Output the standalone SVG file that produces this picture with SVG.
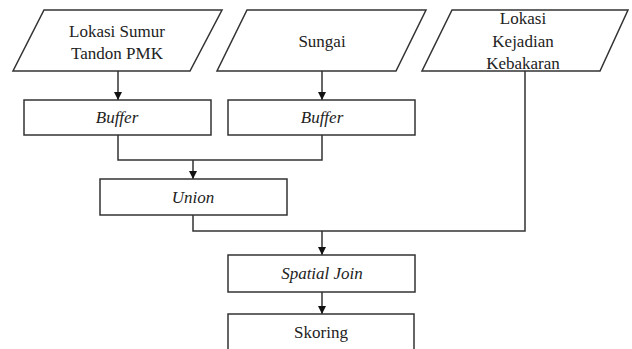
<svg xmlns="http://www.w3.org/2000/svg" width="632" height="349" viewBox="0 0 632 349">
<defs>
<marker id="arr" viewBox="0 0 10 10" refX="10" refY="5" markerWidth="8" markerHeight="9" markerUnits="userSpaceOnUse" orient="auto">
<path d="M0,0 L10,5 L0,10 Z" fill="#111"/>
</marker>
<style>
.shape{fill:#fff;stroke:#333;stroke-width:1.5}
.line{fill:none;stroke:#333;stroke-width:1.5}
.t{font-size:17px;fill:#222;text-anchor:middle}
.i{font-style:italic}
</style>
</defs>
<rect width="632" height="349" fill="#fff"/>
<g id="connectors">
<path class="line" d="M118,71 V100" marker-end="url(#arr)"/>
<path class="line" d="M322,71 V100" marker-end="url(#arr)"/>
<path class="line" d="M118,135 V160 H322 V135"/>
<path class="line" d="M193,160 V179" marker-end="url(#arr)"/>
<path class="line" d="M193,215 V231 H525 V71"/>
<path class="line" d="M322,231 V255" marker-end="url(#arr)"/>
<path class="line" d="M322,292 V314" marker-end="url(#arr)"/>
</g>
<g font-family="Liberation Serif, DejaVu Serif, serif">
<g id="lokasi-sumur">
<polygon class="shape" points="44,10 222,10 190,71 13,71"/>
<text class="t" x="117" y="37">Lokasi Sumur</text>
<text class="t" x="117" y="59">Tandon PMK</text>
</g>
<g id="sungai">
<polygon class="shape" points="247,10 426,10 396,71 217,71"/>
<text class="t" x="322" y="47">Sungai</text>
</g>
<g id="lokasi-kejadian">
<polygon class="shape" points="452,10 628,10 600,71 422,71"/>
<text class="t" x="523" y="24">Lokasi</text>
<text class="t" x="523" y="47">Kejadian</text>
<text class="t" x="523" y="69">Kebakaran</text>
</g>
<g id="buffer1">
<rect class="shape" x="24" y="100" width="187" height="35"/>
<text class="t i" x="117" y="123">Buffer</text>
</g>
<g id="buffer2">
<rect class="shape" x="228" y="100" width="187" height="35"/>
<text class="t i" x="322" y="123">Buffer</text>
</g>
<g id="union">
<rect class="shape" x="100" y="179" width="187" height="36"/>
<text class="t i" x="193" y="203">Union</text>
</g>
<g id="spatial-join">
<rect class="shape" x="228" y="255" width="187" height="37"/>
<text class="t i" x="322" y="279">Spatial Join</text>
</g>
<g id="skoring">
<rect class="shape" x="228" y="314" width="186" height="45"/>
<text class="t" x="321" y="338">Skoring</text>
</g>
</g>
</svg>
